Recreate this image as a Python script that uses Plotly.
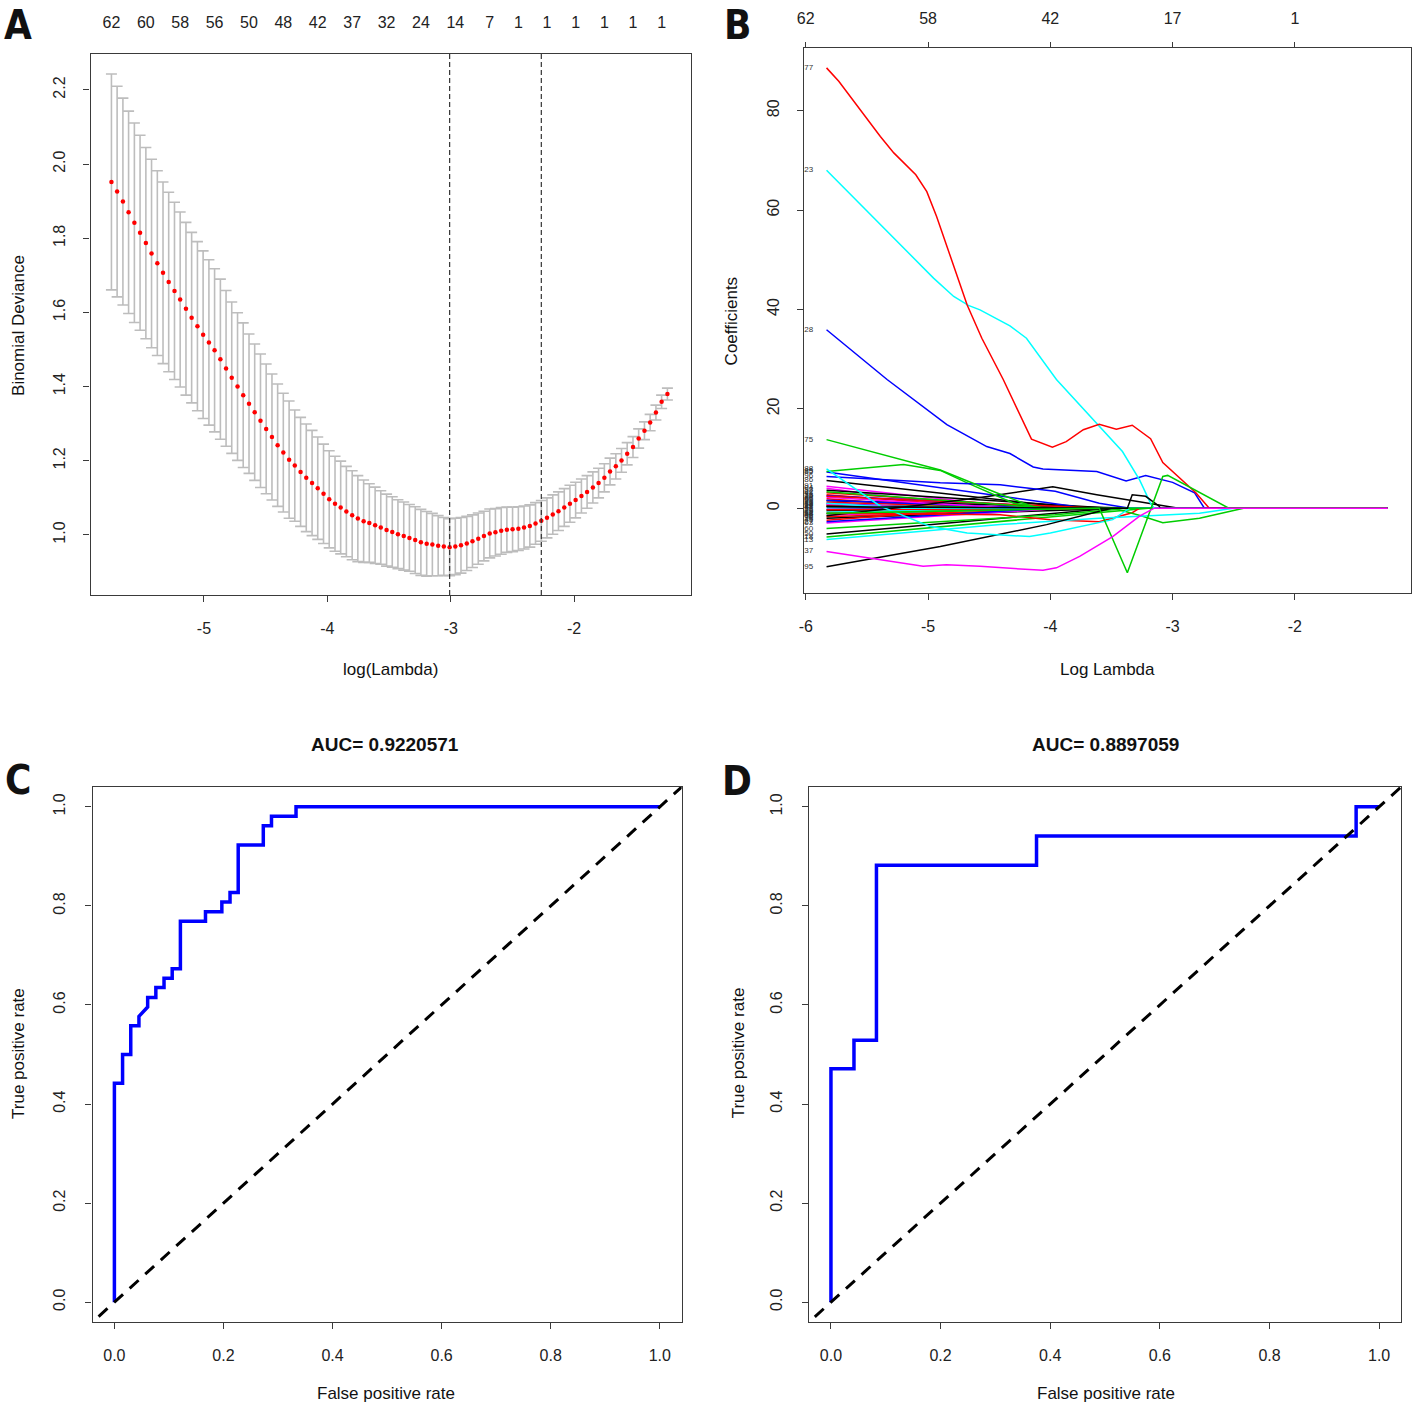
import plotly.graph_objects as go

W, H = 1418, 1405
FONT = "Liberation Sans, Arial, sans-serif"

# ---------------- panel A: cross-validated binomial deviance ----------------
lam_x = [
    -5.750, -5.704, -5.657, -5.611, -5.564, -5.518, -5.471, -5.425, -5.378, -5.332,
    -5.286, -5.239, -5.193, -5.146, -5.100, -5.053, -5.007, -4.960, -4.914, -4.867,
    -4.821, -4.775, -4.728, -4.682, -4.635, -4.589, -4.542, -4.496, -4.449, -4.403,
    -4.357, -4.310, -4.264, -4.217, -4.171, -4.124, -4.078, -4.031, -3.985, -3.938,
    -3.892, -3.846, -3.799, -3.753, -3.706, -3.660, -3.613, -3.567, -3.520, -3.474,
    -3.428, -3.381, -3.335, -3.288, -3.242, -3.195, -3.149, -3.102, -3.056, -3.009,
    -2.963, -2.917, -2.870, -2.824, -2.777, -2.731, -2.684, -2.638, -2.591, -2.545,
    -2.499, -2.452, -2.406, -2.359, -2.313, -2.266, -2.220, -2.173, -2.127, -2.080,
    -2.034, -1.988, -1.941, -1.895, -1.848, -1.802, -1.755, -1.709, -1.662, -1.616,
    -1.570, -1.523, -1.477, -1.430, -1.384, -1.337, -1.291, -1.244,
]
cv_mean = [
    1.952, 1.926, 1.899, 1.870, 1.842, 1.815, 1.787, 1.759, 1.733, 1.707,
    1.682, 1.658, 1.635, 1.610, 1.586, 1.563, 1.540, 1.519, 1.498, 1.474,
    1.449, 1.424, 1.400, 1.377, 1.354, 1.331, 1.308, 1.286, 1.264, 1.242,
    1.222, 1.203, 1.187, 1.170, 1.154, 1.140, 1.126, 1.111, 1.096, 1.084,
    1.074, 1.063, 1.053, 1.044, 1.037, 1.032, 1.026, 1.020, 1.013, 1.008,
    1.002, 0.997, 0.992, 0.986, 0.980, 0.976, 0.974, 0.971, 0.969, 0.967,
    0.969, 0.972, 0.977, 0.983, 0.990, 0.997, 1.004, 1.007, 1.011, 1.014,
    1.015, 1.017, 1.020, 1.024, 1.031, 1.038, 1.046, 1.055, 1.064, 1.074,
    1.084, 1.094, 1.105, 1.116, 1.128, 1.140, 1.154, 1.171, 1.185, 1.201,
    1.219, 1.237, 1.260, 1.281, 1.303, 1.330, 1.359, 1.380,
]
cv_sd = [
    0.291, 0.284, 0.279, 0.273, 0.269, 0.263, 0.258, 0.254, 0.249, 0.245,
    0.242, 0.239, 0.236, 0.233, 0.230, 0.228, 0.226, 0.223, 0.220, 0.216,
    0.210, 0.204, 0.199, 0.195, 0.188, 0.184, 0.180, 0.175, 0.170, 0.165,
    0.160, 0.158, 0.150, 0.147, 0.145, 0.142, 0.138, 0.134, 0.131, 0.128,
    0.125, 0.122, 0.120, 0.116, 0.111, 0.106, 0.103, 0.099, 0.097, 0.095,
    0.093, 0.092, 0.090, 0.090, 0.089, 0.087, 0.084, 0.081, 0.078, 0.077,
    0.076, 0.075, 0.073, 0.071, 0.069, 0.067, 0.066, 0.064, 0.063, 0.061,
    0.060, 0.059, 0.058, 0.057, 0.056, 0.055, 0.054, 0.053, 0.052, 0.051,
    0.050, 0.048, 0.046, 0.044, 0.042, 0.040, 0.038, 0.036, 0.034, 0.032,
    0.030, 0.028, 0.026, 0.024, 0.022, 0.020, 0.018, 0.016,
]
nz_idx = [0, 6, 12, 18, 24, 30, 36, 42, 48, 54, 60, 66, 71, 76, 81, 86, 91, 96]
nz_text = ["62", "60", "58", "56", "50", "48", "42", "37", "32", "24",
           "14", "7", "1", "1", "1", "1", "1", "1"]
a_xtick_vals = [-5, -4, -3, -2]
a_xtick_text = ["-5", "-4", "-3", "-2"]

# ---------------- panel B: coefficient paths ----------------
path_span = [-5.83, -1.24]

red_x = [-5.83, -5.73, -5.39, -5.28, -5.10, -5.01, -4.93, -4.68, -4.56, -4.385, -4.154,
         -3.983, -3.87, -3.73, -3.60, -3.46, -3.33, -3.18, -3.08, -2.81, -2.70, -1.24]
red_y = [88.6, 85.9, 74.8, 71.5, 67.1, 63.7, 58.7, 40.9, 34.2, 25.9, 13.9,
         12.3, 13.4, 15.8, 16.9, 15.9, 16.7, 14.0, 9.2, 3.1, 0, 0]
cyan_x = [-5.83, -4.955, -4.79, -4.67, -4.575, -4.33, -4.195, -3.95, -3.41, -3.27, -3.18, -3.15, -1.24]
cyan_y = [68.0, 46.3, 42.6, 40.8, 39.9, 36.7, 34.2, 25.9, 11.4, 5.7, 1.0, 0, 0]
blue_x = [-5.83, -5.335, -4.846, -4.52, -4.33, -4.14, -4.06, -3.62, -3.38, -3.22, -3.0, -2.82, -2.74, -1.24]
blue_y = [35.9, 25.9, 16.8, 12.4, 11.0, 8.3, 7.9, 7.4, 5.5, 6.6, 5.2, 3.1, 0, 0]
green1_x = [-5.83, -4.9, -4.44, -4.11, -1.24]
green1_y = [13.8, 7.7, 3.1, 0, 0]
green2_x = [-5.83, -5.2, -4.9, -4.68, -4.30, -4.05, -1.24]
green2_y = [7.4, 8.8, 7.6, 5.1, 1.0, 0, 0]
cyan2_x = [-5.83, -5.39, -4.98, -4.68, -4.17, -4.0, -3.49, -3.35, -1.24]
cyan2_y = [7.9, 0.4, -3.7, -5.0, -5.7, -5.0, -2.3, 0, 0]
blue2_x = [-5.83, -4.9, -4.41, -3.96, -3.6, -3.35, -1.24]
blue2_y = [6.4, 5.1, 4.7, 3.4, 1.0, 0, 0]
black1_x = [-5.83, -5.0, -4.5, -3.98, -3.62, -3.35, -2.95, -1.24]
black1_y = [-1.5, 0.8, 2.4, 4.3, 2.7, 1.6, 0, 0]
black2_x = [-5.83, -3.37, -3.33, -3.22, -3.11, -3.10, -1.24]
black2_y = [0.3, 0, 2.7, 2.4, 0.4, 0, 0]
magenta_x = [-5.83, -5.39, -5.04, -4.85, -4.575, -4.06, -3.95, -3.76, -3.49, -3.27, -3.15, -1.24]
magenta_y = [-8.7, -10.4, -11.7, -11.4, -11.7, -12.5, -12.0, -9.7, -5.7, -1.6, 0, 0]
black3_x = [-5.83, -4.9, -4.03, -3.6, -3.5, -1.24]
black3_y = [-11.8, -7.7, -3.3, -0.5, 0, 0]
green3_x = [-5.83, -3.6, -3.37, -3.08, -3.04, -2.78, -2.54, -1.24]
green3_y = [-1.0, 0, -13.0, 6.4, 6.6, 3.1, 0, 0]
green4_x = [-5.83, -3.96, -3.45, -3.245, -3.08, -2.78, -2.51, -2.42, -1.24]
green4_y = [-4.1, -1.3, -0.2, -1.6, -2.9, -2.0, -0.5, 0, 0]
cyan3_x = [-5.83, -4.41, -3.6, -2.78, -2.5, -1.24]
cyan3_y = [-6.3, -3.3, -2.0, -1.0, 0, 0]
red2_x = [-5.83, -4.41, -4.0, -3.6, -3.33, -3.27, -1.24]
red2_y = [-1.0, -1.3, -2.3, -2.7, -0.9, 0, 0]

minor_y0 = [5.6, 4.4, 4.0, 3.6, 3.1, 7.3, 2.7, 2.5, 1.9, 1.5, 1.2, 0.9, 0.6, 0.2, -0.2, -0.5,
            -1.4, -1.7, -2.0, -2.4, -3.0, -5.2, -5.8, 0.5, 0.8, -0.8, 1.6, -1.1, -0.3, 0.4,
            2.2, 1.0, -2.7, 2.4, 3.3]
minor_zero_x = [-3.8, -4.2, -4.6, -3.5, -3.9, -3.7, -4.4, -3.7, -4.8, -3.3, -4.0, -4.6, -3.6,
                -4.9, -4.3, -3.9, -4.1, -3.7, -3.4, -4.5, -3.9, -3.5, -3.2, -5.0, -4.7, -4.4,
                -4.1, -3.8, -3.6, -4.5, -4.3, -5.2, -4.0, -3.6, -4.0]
minor_color = ["black", "magenta", "magenta", "black", "red", "blue", "red", "blue", "red",
               "black", "red", "blue", "green", "cyan", "blue", "black", "magenta", "red",
               "black", "red", "magenta", "black", "green", "red", "magenta", "cyan", "blue",
               "green", "red", "black", "magenta", "cyan", "blue", "red", "green"]
minor_label = ["186", "91", "204", "52", "147", "185", "233", "19", "66", "201", "170", "88",
               "214", "31", "157", "122", "240", "76", "198", "45", "163", "150", "118",
               "27", "131", "209", "99", "58", "176", "12", "84", "143", "227", "36", "102"]

b_xtick_vals = [-6, -5, -4, -3, -2]
b_xtick_text = ["-6", "-5", "-4", "-3", "-2"]
b_top_text = ["62", "58", "42", "17", "1"]

# ---------------- panels C and D: ROC curves ----------------
roc_c_fpr = [0, 0, 0.015, 0.015, 0.030, 0.030, 0.045, 0.045, 0.061, 0.061, 0.076, 0.076,
             0.091, 0.091, 0.106, 0.106, 0.121, 0.121, 0.167, 0.167, 0.197, 0.197, 0.212,
             0.212, 0.227, 0.227, 0.273, 0.273, 0.288, 0.288, 0.333, 0.333, 1.0]
roc_c_tpr = [0, 0.442, 0.442, 0.500, 0.500, 0.558, 0.558, 0.577, 0.596, 0.615, 0.615, 0.635,
             0.635, 0.654, 0.654, 0.673, 0.673, 0.769, 0.769, 0.788, 0.788, 0.808, 0.808,
             0.827, 0.827, 0.923, 0.923, 0.962, 0.962, 0.981, 0.981, 1.0, 1.0]
roc_d_fpr = [0, 0, 0.042, 0.042, 0.083, 0.083, 0.375, 0.375, 0.958, 0.958, 1.0]
roc_d_tpr = [0, 0.471, 0.471, 0.529, 0.529, 0.882, 0.882, 0.941, 0.941, 1.0, 1.0]
ref_diag = [-0.2, 1.2]
auc_c = "AUC= 0.9220571"
auc_d = "AUC= 0.8897059"

assert len(lam_x) == len(cv_mean) == len(cv_sd)

R_COL = {"black": "#000000", "red": "#FF0000", "green": "#00CD00",
         "blue": "#0000FF", "cyan": "#00FFFF", "magenta": "#FF00FF"}
PAD = "\u00a0" * 6


def shift(x):
    # small horizontal nudge so the page lines up with the reference
    return x - 5 if x < 709 else x - 2


def dom_x(a, b):
    return [shift(a) / W, shift(b) / W]


def dom_y(top, bottom):
    return [1 - bottom / H, 1 - top / H]


def axis(**kw):
    d = dict(showline=True, linecolor="#3a3a3a", linewidth=1.2, mirror=True,
             ticks="outside", ticklen=6, tickwidth=1.2, tickcolor="#3a3a3a",
             showgrid=False, zeroline=False, ticklabelstandoff=13,
             tickfont=dict(family=FONT, size=16, color="#222"))
    d.update(kw)
    return d


fig = go.Figure()

# panel A
min_idx = min(range(len(cv_mean)), key=lambda i: cv_mean[i])
thr = cv_mean[min_idx] + cv_sd[min_idx]
se_idx = max(i for i in range(len(cv_mean)) if cv_mean[i] <= thr)

fig.add_trace(go.Scatter(
    x=lam_x, y=cv_mean, mode="markers", xaxis="x", yaxis="y",
    marker=dict(color="#FF0000", size=4.5),
    error_y=dict(type="data", array=cv_sd, color="#BDBDBD", thickness=1.6, width=5.5),
))
fig.add_trace(go.Scatter(x=[], y=[], xaxis="x5", yaxis="y"))

# panel B
majors = [
    (black1_x, black1_y, "black", "62"),
    (red2_x, red2_y, "red", "242"),
    (green4_x, green4_y, "green", "160"),
    (cyan3_x, cyan3_y, "cyan", "113"),
    (black3_x, black3_y, "black", "95"),
    (green2_x, green2_y, "green", "185"),
    (blue2_x, blue2_y, "blue", "196"),
    (cyan2_x, cyan2_y, "cyan", "188"),
    (green1_x, green1_y, "green", "175"),
    (blue_x, blue_y, "blue", "128"),
    (cyan_x, cyan_y, "cyan", "323"),
    (red_x, red_y, "red", "377"),
    (black2_x, black2_y, "black", "48"),
    (green3_x, green3_y, "green", "212"),
]
paths = []
for y0, zx, col, lab in zip(minor_y0, minor_zero_x, minor_color, minor_label):
    paths.append(([path_span[0], zx, path_span[1]], [y0, 0, 0], col, lab))
paths += majors
paths.append((magenta_x, magenta_y, "magenta", "137"))

for xs, ys, col, lab in paths:
    fig.add_trace(go.Scatter(x=xs, y=ys, mode="lines", xaxis="x2", yaxis="y2",
                             line=dict(color=R_COL[col], width=1.5)))

fig.add_trace(go.Scatter(
    x=[p[0][0] for p in paths], y=[p[1][0] for p in paths],
    text=[p[3] + PAD for p in paths],
    mode="text", textposition="middle left", cliponaxis=True, xaxis="x2", yaxis="y2",
    textfont=dict(family=FONT, size=8, color="#333"),
))
fig.add_trace(go.Scatter(x=[], y=[], xaxis="x6", yaxis="y2"))

# panels C and D
fig.add_trace(go.Scatter(x=roc_c_fpr, y=roc_c_tpr, mode="lines", xaxis="x3", yaxis="y3",
                         line=dict(color="#0000FF", width=3.5)))
fig.add_trace(go.Scatter(x=ref_diag, y=ref_diag, mode="lines", xaxis="x3", yaxis="y3",
                         line=dict(color="black", width=3, dash="12px,9px")))
fig.add_trace(go.Scatter(x=roc_d_fpr, y=roc_d_tpr, mode="lines", xaxis="x4", yaxis="y4",
                         line=dict(color="#0000FF", width=3.5)))
fig.add_trace(go.Scatter(x=ref_diag, y=ref_diag, mode="lines", xaxis="x4", yaxis="y4",
                         line=dict(color="black", width=3, dash="12px,9px")))

a_range = [-5.919, -1.056]
b_range = [-6.014, -1.05]
roc_range = [-0.04, 1.04]

fig.update_layout(
    width=W, height=H, margin=dict(l=0, r=0, t=0, b=0),
    paper_bgcolor="white", plot_bgcolor="white", showlegend=False,
    font=dict(family=FONT, color="#222"),
    xaxis=axis(domain=dom_x(89, 692), anchor="y", range=a_range,
               tickvals=a_xtick_vals, ticktext=a_xtick_text),
    yaxis=axis(domain=dom_y(54, 595), anchor="x", range=[0.838, 2.297], dtick=0.2,
               tickformat=".1f", tickangle=-90, ticklabelstandoff=12),
    xaxis5=dict(overlaying="x", side="top", anchor="y", range=a_range,
                tickvals=[lam_x[i] for i in nz_idx], ticktext=nz_text, ticks="",
                showline=False, showgrid=False, zeroline=False, ticklabelstandoff=22,
                tickfont=dict(family=FONT, size=16, color="#222")),
    xaxis2=axis(domain=dom_x(803, 1413), anchor="y2", range=b_range,
                tickvals=b_xtick_vals, ticktext=b_xtick_text),
    yaxis2=axis(domain=dom_y(48, 593), anchor="x2", range=[-17.06, 92.6], dtick=20,
                tickangle=-90, ticklabelstandoff=12),
    xaxis6=dict(overlaying="x2", side="top", anchor="y2", range=b_range,
                tickvals=b_xtick_vals, ticktext=b_top_text, ticks="outside", ticklen=5,
                tickwidth=1.2, tickcolor="#3a3a3a", showline=False, showgrid=False,
                zeroline=False, ticklabelstandoff=12,
                tickfont=dict(family=FONT, size=16, color="#222")),
    xaxis3=axis(domain=dom_x(91, 683), anchor="y3", range=roc_range, dtick=0.2, tickformat=".1f"),
    yaxis3=axis(domain=dom_y(787, 1322), anchor="x3", range=roc_range, dtick=0.2,
                tickformat=".1f", tickangle=-90, ticklabelstandoff=14),
    xaxis4=axis(domain=dom_x(808, 1403), anchor="y4", range=roc_range, dtick=0.2, tickformat=".1f"),
    yaxis4=axis(domain=dom_y(787, 1322), anchor="x4", range=roc_range, dtick=0.2,
                tickformat=".1f", tickangle=-90, ticklabelstandoff=14),
)

for idx in (min_idx, se_idx):
    fig.add_shape(type="line", xref="x", yref="y domain", x0=lam_x[idx], x1=lam_x[idx],
                  y0=0, y1=1, line=dict(color="#333", width=1.2, dash="5px,3px"))


def note(text, x, y, size=17, angle=0, bold=False, family=FONT, yanchor="middle"):
    fig.add_annotation(text=f"<b>{text}</b>" if bold else text,
                       x=shift(x) / W, y=1 - y / H,
                       xref="paper", yref="paper", showarrow=False, textangle=angle,
                       xanchor="center", yanchor=yanchor,
                       font=dict(family=family, size=size, color="#111"))


note("log(Lambda)", 390, 669)
note("Binomial Deviance", 16, 325, angle=-90)
note("Log Lambda", 1108, 669)
note("Coefficients", 731, 321, angle=-90)
note("False positive rate", 386, 1393)
note("True positive rate", 16, 1053, angle=-90)
note("False positive rate", 1106, 1393)
note("True positive rate", 737, 1053, angle=-90)
note(auc_c, 385, 745, size=19, bold=True)
note(auc_d, 1106, 745, size=19, bold=True)
letter_font = "Liberation Sans Narrow, DejaVu Sans Condensed, Liberation Sans, Arial"
note("A", 16, 0, size=40, bold=True, family=letter_font, yanchor="top")
note("B", 736, 0, size=40, bold=True, family=letter_font, yanchor="top")
note("C", 16, 780, size=40, bold=True, family=letter_font)
note("D", 736, 781, size=40, bold=True, family=letter_font)

fig.write_html(
    "out.html",
    config={"displayModeBar": False},
    post_script="document.body.style.margin='0';document.body.style.overflow='hidden';",
)
